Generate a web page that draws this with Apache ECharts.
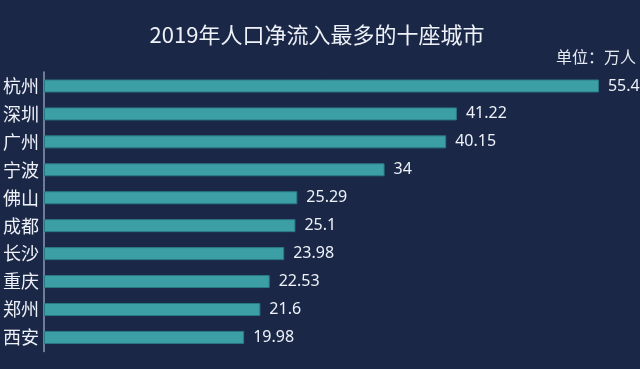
<!DOCTYPE html>
<html><head><meta charset="utf-8">
<script src="https://cdn.jsdelivr.net/npm/echarts@6/dist/echarts.min.js"></script>
<style>html,body{margin:0;padding:0;background:#1a2747;}#c{width:640px;height:369px;}</style>
</head><body><div id="c"></div>
<script>
const cities = ['杭州','深圳','广州','宁波','佛山','成都','长沙','重庆','郑州','西安'];
const values = [55.4, 41.22, 40.15, 34, 25.29, 25.1, 23.98, 22.53, 21.6, 19.98];
const titleText = '2019年人口净流入最多的十座城市';
const unitText = '单位：万人';

const chart = echarts.init(document.getElementById('c'));
chart.setOption({
  backgroundColor: '#1a2747',
  animation: false,
  title: {
    text: titleText, left: 312, textAlign: 'center', top: 19,
    textStyle: {color: '#eef2f8', fontSize: 22, fontWeight: 'normal', fontFamily: 'Noto Sans CJK SC'}
  },
  graphic: [{
    type: 'text', right: 4, top: 49,
    style: {text: unitText, fill: '#e6ebf3', fontSize: 16, fontFamily: 'Noto Sans CJK SC'}
  }],
  grid: {left: 44, right: 5, top: 72, bottom: 17.6, containLabel: false},
  xAxis: {type: 'value', min: 0, max: 59, show: false},
  yAxis: {
    type: 'category', data: cities, inverse: true,
    axisLine: {show: true, lineStyle: {color: '#8d99b3', width: 1.5}},
    axisTick: {show: false},
    axisLabel: {color: '#eef2f8', fontSize: 18, margin: 5, fontFamily: 'Noto Sans CJK SC'}
  },
  series: [{
    type: 'bar', data: values, barWidth: 13,
    itemStyle: {color: '#3d9fa6', borderColor: '#2a7a83', borderWidth: 1},
    label: {show: true, position: 'right', distance: 9, color: '#eef2f8', fontSize: 16, fontFamily: 'Noto Sans'}
  }]
});
</script></body></html>
